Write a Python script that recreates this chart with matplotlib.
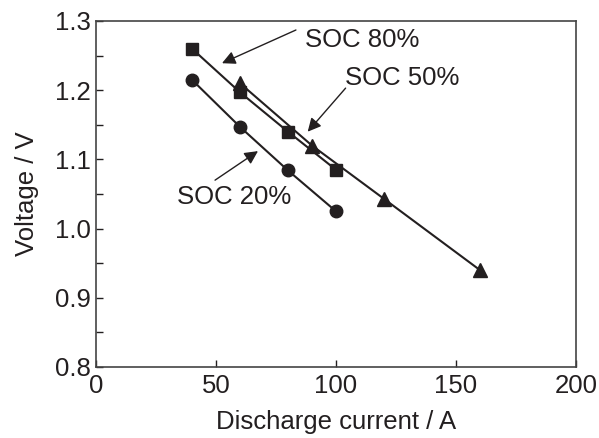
import matplotlib
matplotlib.use('Agg')
import matplotlib.pyplot as plt

plt.rcParams['font.family'] = ['Liberation Sans', 'DejaVu Sans']

# data
soc80_x = [40, 60, 80, 100]
soc80_v = [1.260, 1.197, 1.140, 1.085]
soc50_x = [60, 90, 120, 160]
soc50_v = [1.210, 1.120, 1.043, 0.940]
soc20_x = [40, 60, 80, 100]
soc20_v = [1.215, 1.147, 1.084, 1.025]

ink = '#231f20'
fs = 18.5

fig = plt.figure(figsize=(5.99, 4.38), dpi=100)
ax = fig.add_axes([96/599, 1 - 367/438, 480/599, 346/438])

ax.plot(soc80_x, soc80_v, color=ink, lw=1.5, marker='s', ms=8.5)
ax.plot(soc50_x, soc50_v, color=ink, lw=1.5, marker='^', ms=9.5)
ax.plot(soc20_x, soc20_v, color=ink, lw=1.5, marker='o', ms=9)

arr = dict(arrowstyle='-|>', color=ink, lw=1, mutation_scale=20, shrinkA=0, shrinkB=0)
ax.annotate('', xy=(52.5, 1.239), xytext=(83.3, 1.287), arrowprops=arr)
ax.annotate('', xy=(88.2, 1.140), xytext=(104, 1.203), arrowprops=arr)
ax.annotate('', xy=(67.5, 1.112), xytext=(49.6, 1.070), arrowprops=arr)
ax.text(87, 1.2725, 'SOC 80%', fontsize=fs, color=ink, va='center', ha='left')
ax.text(103.8, 1.2176, 'SOC 50%', fontsize=fs, color=ink, va='center', ha='left')
ax.text(33.7, 1.0457, 'SOC 20%', fontsize=fs, color=ink, va='center', ha='left')

ax.set_xlim(0, 200)
ax.set_ylim(0.8, 1.3)
ax.set_xticks([0, 50, 100, 150, 200])
ax.set_yticks([0.8, 0.9, 1.0, 1.1, 1.2, 1.3])
ax.set_yticklabels(['0.8', '0.9', '1.0', '1.1', '1.2', '1.3'])
ax.set_yticks([0.85, 0.95, 1.05, 1.15, 1.25], minor=True)
ax.tick_params(direction='in', length=5, width=1, color=ink, labelsize=fs, labelcolor=ink, pad=4)
ax.tick_params(which='minor', direction='in', length=5, width=1, color=ink)
ax.tick_params(axis='x', pad=5)
for s in ax.spines.values():
    s.set_color('#444444')
    s.set_linewidth(1.2)

ax.set_xlabel('Discharge current / A', fontsize=fs, color=ink, labelpad=9)
ax.set_ylabel('Voltage / V', fontsize=fs, color=ink, labelpad=11)

fig.savefig('out.png', dpi=100)
